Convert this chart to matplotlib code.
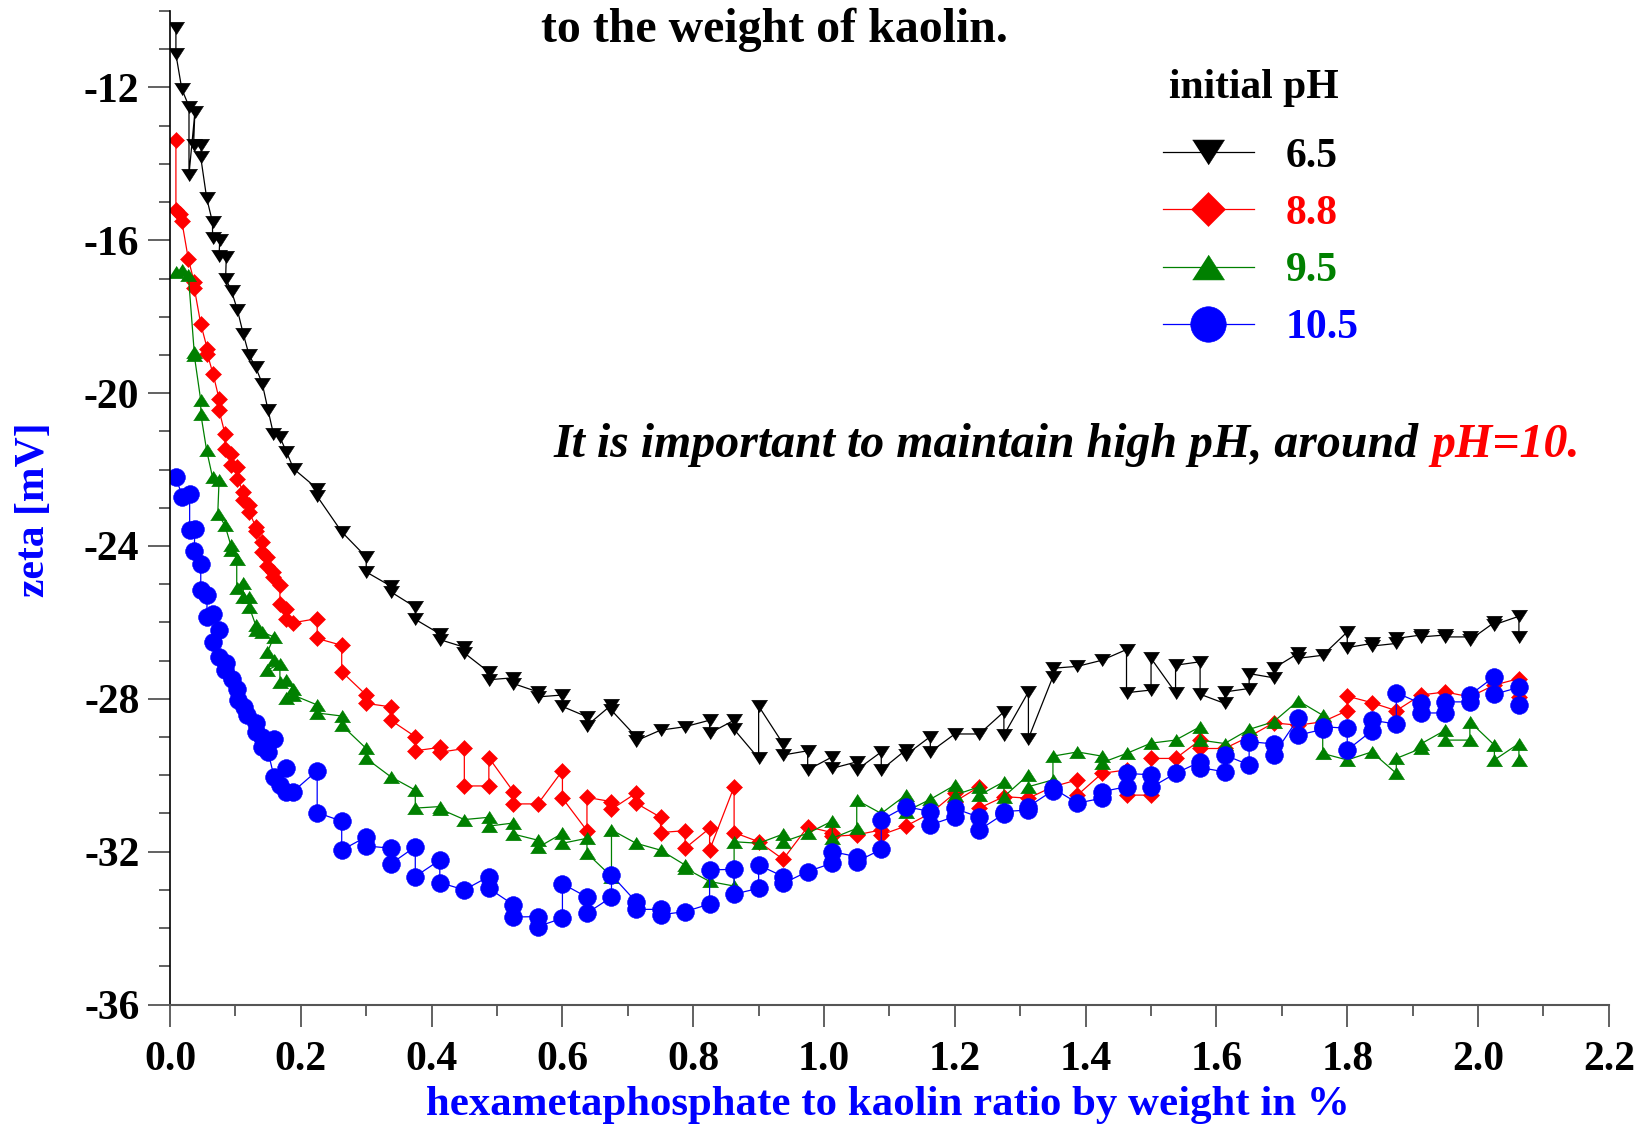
import matplotlib
matplotlib.use("Agg")
import matplotlib.pyplot as plt
from matplotlib.ticker import MultipleLocator, FormatStrFormatter

plt.rcParams['font.family'] = ['Liberation Serif', 'DejaVu Serif']
plt.rcParams['font.weight'] = 'bold'
plt.rcParams['axes.unicode_minus'] = False

# ---- zeta potential vs. hexametaphosphate dose, four initial pH values ----
series_labels = ["6.5", "8.8", "9.5", "10.5"]
series_colors = ["#000000", "#ff0000", "#008000", "#0000ff"]

x_ph65 = [0.009, 0.009, 0.018, 0.029, 0.029, 0.038, 0.036, 0.048, 0.047, 0.056,
          0.065, 0.065, 0.076, 0.075, 0.086, 0.085, 0.094, 0.103, 0.112, 0.121,
          0.131, 0.141, 0.150, 0.158, 0.168, 0.178, 0.189,
          0.225, 0.225, 0.2625, 0.300, 0.300, 0.3375, 0.3375, 0.375, 0.375,
          0.4125, 0.4125, 0.45, 0.45, 0.4875, 0.4875, 0.525, 0.525, 0.5625, 0.5625,
          0.6, 0.6, 0.6375, 0.6375, 0.675, 0.675, 0.7125, 0.7125, 0.75, 0.7875,
          0.825, 0.825, 0.8625, 0.8625, 0.9, 0.9, 0.9375, 0.9375, 0.975, 0.975,
          1.0125, 1.0125, 1.05, 1.05, 1.0875, 1.0875, 1.125, 1.125, 1.1625, 1.1625,
          1.2, 1.2375, 1.275, 1.275, 1.3125, 1.3125, 1.35, 1.35, 1.3875, 1.425,
          1.4625, 1.4625, 1.5, 1.5, 1.5375, 1.5375, 1.575, 1.575, 1.6125, 1.6125,
          1.65, 1.65, 1.6875, 1.6875, 1.725, 1.725, 1.7625, 1.8, 1.8, 1.8375, 1.8375,
          1.875, 1.875, 1.9125, 1.9125, 1.95, 1.95, 1.9875, 1.9875, 2.025, 2.025,
          2.0625, 2.0625]
z_ph65 = [-10.45, -11.13, -12.04, -12.50, -14.28, -12.65, -13.50, -13.50, -13.83, -14.89,
          -15.53, -15.95, -16.00, -16.40, -16.44, -17.00, -17.33, -17.82, -18.45, -19.01,
          -19.32, -19.75, -20.45, -21.06, -21.15, -21.54, -21.98,
          -22.50, -22.70, -23.63, -24.29, -24.68, -25.05, -25.20, -25.60, -25.92,
          -26.30, -26.45, -26.65, -26.80, -27.30, -27.50, -27.45, -27.60, -27.82, -27.95,
          -27.90, -28.20, -28.47, -28.70, -28.16, -28.30, -28.99, -29.10, -28.82, -28.73,
          -28.56, -28.90, -28.56, -28.80, -29.56, -28.19, -29.18, -29.47, -29.36, -29.86,
          -29.52, -29.82, -29.65, -29.86, -29.39, -29.86, -29.34, -29.47, -28.99, -29.39,
          -28.92, -28.92, -28.34, -28.95, -27.82, -29.04, -27.42, -27.20, -27.15, -26.99,
          -26.71, -27.84, -27.77, -26.94, -27.84, -27.12, -27.03, -27.88, -28.12, -27.82,
          -27.73, -27.34, -27.45, -27.20, -26.81, -26.94, -26.86, -26.25, -26.66, -26.55, -26.62,
          -26.55, -26.42, -26.33, -26.38, -26.33, -26.38, -26.38, -26.46, -26.00, -26.06,
          -25.84, -26.38]

x_ph88 = [0.009, 0.009, 0.016, 0.018, 0.028, 0.037, 0.037, 0.047, 0.057, 0.057,
          0.066, 0.075, 0.075, 0.084, 0.084, 0.093, 0.093, 0.103, 0.103, 0.112,
          0.112, 0.121, 0.121, 0.131, 0.131, 0.140, 0.140, 0.149, 0.149, 0.158,
          0.158, 0.168, 0.168, 0.177, 0.177, 0.188,
          0.225, 0.225, 0.2625, 0.2625, 0.3, 0.3, 0.3375, 0.3375, 0.375, 0.375,
          0.4125, 0.4125, 0.45, 0.45, 0.4875, 0.4875, 0.525, 0.525, 0.5625, 0.6, 0.6,
          0.6375, 0.6375, 0.675, 0.675, 0.7125, 0.7125, 0.75, 0.75, 0.7875, 0.7875,
          0.825, 0.825, 0.8625, 0.8625, 0.9, 0.9375, 0.975, 1.0125, 1.0125, 1.05,
          1.0875, 1.0875, 1.125, 1.1625, 1.2, 1.2, 1.2375, 1.2375, 1.275, 1.3125, 1.35,
          1.3875, 1.3875, 1.425, 1.4625, 1.4625, 1.5, 1.5, 1.5375, 1.575, 1.575, 1.6125,
          1.65, 1.6875, 1.725, 1.7625, 1.8, 1.8, 1.8375, 1.875, 1.9125, 1.95, 1.9875,
          2.025, 2.0625, 2.0625]
z_ph88 = [-13.38, -15.22, -15.31, -15.50, -16.49, -17.10, -17.24, -18.19, -18.84, -18.97,
          -19.51, -20.15, -20.45, -21.06, -21.45, -21.58, -21.88, -21.93, -22.24, -22.59,
          -22.80, -22.94, -23.10, -23.50, -23.60, -23.90, -24.16, -24.29, -24.53, -24.68,
          -24.81, -25.03, -25.51, -25.64, -25.90, -26.01,
          -25.90, -26.42, -26.60, -27.29, -27.90, -28.12, -28.21, -28.56, -28.99, -29.36,
          -29.27, -29.40, -29.30, -30.28, -30.28, -29.54, -30.43, -30.75, -30.75, -29.88, -30.60,
          -31.45, -30.58, -30.69, -30.89, -30.47, -30.73, -31.10, -31.50, -31.45, -31.91,
          -31.39, -31.96, -30.30, -31.50, -31.74, -32.20, -31.35, -31.50, -31.60, -31.56,
          -31.43, -31.56, -31.33, -31.00, -30.47, -30.69, -30.30, -30.86, -30.56, -30.60, -30.30,
          -30.12, -30.52, -29.95, -29.86, -30.52, -30.52, -29.56, -29.56, -29.08, -29.30, -29.30,
          -28.99, -28.63, -28.69, -28.60, -28.31, -27.93, -28.10, -28.31, -27.90, -27.82, -27.95,
          -27.64, -27.47, -27.95]

x_ph95 = [0.009, 0.018, 0.028, 0.037, 0.037, 0.047, 0.047, 0.056, 0.065, 0.075,
          0.073, 0.084, 0.093, 0.093, 0.102, 0.102, 0.112, 0.112, 0.121, 0.121,
          0.131, 0.131, 0.140, 0.159, 0.149, 0.159, 0.149, 0.168, 0.168, 0.177,
          0.188, 0.177, 0.188,
          0.225, 0.225, 0.2625, 0.2625, 0.3, 0.3, 0.3375, 0.375, 0.375, 0.4125, 0.4125,
          0.45, 0.4875, 0.4875, 0.525, 0.525, 0.5625, 0.5625, 0.6, 0.6, 0.6375, 0.6375,
          0.675, 0.675, 0.7125, 0.75, 0.7875, 0.7875, 0.825, 0.8625, 0.8625, 0.9,
          0.9375, 0.9375, 0.975, 1.0125, 1.0125, 1.05, 1.05, 1.0875, 1.125, 1.125,
          1.1625, 1.2, 1.2, 1.2375, 1.2375, 1.275, 1.275, 1.3125, 1.3125, 1.35, 1.35,
          1.3875, 1.425, 1.425, 1.4625, 1.5, 1.5375, 1.575, 1.575, 1.6125, 1.65, 1.6875,
          1.725, 1.7625, 1.7625, 1.8, 1.8375, 1.875, 1.875, 1.9125, 1.9125, 1.95, 1.95,
          1.9875, 1.9875, 2.025, 2.025, 2.0625, 2.0625]
z_ph95 = [-16.84, -16.78, -16.90, -18.93, -19.00, -20.19, -20.54, -21.50, -22.20, -22.28,
          -23.15, -23.46, -23.98, -24.10, -24.33, -25.11, -24.97, -25.33, -25.33, -25.59,
          -26.07, -26.20, -26.25, -26.38, -26.77, -26.99, -27.25, -27.08, -27.56, -27.51,
          -27.73, -27.99, -27.90,
          -28.16, -28.37, -28.45, -28.69, -29.30, -29.56, -30.04, -30.39, -30.86, -30.82, -30.88,
          -31.16, -31.10, -31.33, -31.25, -31.54, -31.70, -31.89, -31.52, -31.78, -31.65, -32.04,
          -32.65, -31.43, -31.78, -31.96, -32.35, -32.43, -32.78, -32.90, -31.74, -31.78,
          -31.54, -31.74, -31.52, -31.20, -31.65, -31.39, -30.65, -31.00, -30.52, -30.95,
          -30.63, -30.26, -30.52, -30.30, -30.52, -30.17, -30.56, -29.99, -30.30, -30.12, -29.50,
          -29.39, -29.50, -29.67, -29.43, -29.16, -29.08, -28.73, -29.08, -29.17, -28.80, -28.60,
          -28.05, -28.43, -29.43, -29.60, -29.39, -29.95, -29.56, -29.30, -29.18, -28.82, -29.08,
          -29.08, -28.60, -29.21, -29.60, -29.17, -29.60]

x_ph105 = [0.009, 0.019, 0.030, 0.030, 0.038, 0.037, 0.047, 0.047, 0.057, 0.056,
           0.066, 0.075, 0.065, 0.075, 0.085, 0.084, 0.094, 0.103, 0.104, 0.113,
           0.117, 0.131, 0.132, 0.140, 0.150, 0.159, 0.140, 0.150, 0.159, 0.178,
           0.168, 0.178, 0.188,
           0.225, 0.225, 0.2625, 0.2625, 0.3, 0.3, 0.3375, 0.3375, 0.375, 0.375,
           0.4125, 0.4125, 0.45, 0.4875, 0.4875, 0.525, 0.525, 0.5625, 0.5625, 0.6, 0.6,
           0.6375, 0.6375, 0.675, 0.675, 0.7125, 0.7125, 0.75, 0.75, 0.7875, 0.825, 0.825,
           0.8625, 0.8625, 0.9, 0.9, 0.9375, 0.9375, 0.975, 1.0125, 1.0125, 1.05, 1.05,
           1.0875, 1.0875, 1.125, 1.1625, 1.1625, 1.2, 1.2, 1.2375, 1.2375, 1.275, 1.275,
           1.3125, 1.3125, 1.35, 1.35, 1.3875, 1.425, 1.425, 1.4625, 1.4625, 1.5, 1.5,
           1.5375, 1.575, 1.575, 1.6125, 1.6125, 1.65, 1.65, 1.6875, 1.6875, 1.725, 1.725,
           1.7625, 1.7625, 1.8, 1.8, 1.8375, 1.8375, 1.875, 1.875, 1.9125, 1.9125,
           1.95, 1.95, 1.9875, 1.9875, 2.025, 2.025, 2.0625, 2.0625]
z_ph105 = [-22.20, -22.72, -22.63, -23.59, -23.55, -24.13, -24.48, -25.14, -25.29, -25.86,
           -25.79, -26.20, -26.51, -26.90, -27.06, -27.25, -27.47, -27.73, -28.03, -28.21,
           -28.43, -28.64, -28.86, -28.99, -29.12, -29.06, -29.26, -29.39, -30.04, -29.82,
           -30.26, -30.43, -30.43,
           -29.88, -30.98, -31.20, -31.96, -31.61, -31.85, -31.91, -32.32, -31.87, -32.65,
           -32.22, -32.81, -33.00, -32.65, -32.96, -33.39, -33.71, -33.70, -33.96, -33.74, -32.84,
           -33.19, -33.61, -33.19, -32.61, -33.31, -33.51, -33.51, -33.65, -33.57, -33.37, -32.48,
           -32.46, -33.11, -32.96, -32.35, -32.65, -32.83, -32.52, -32.30, -32.00, -32.13, -32.26,
           -31.94, -31.17, -30.82, -30.95, -31.30, -31.08, -30.87, -31.10, -31.43, -31.01, -30.95,
           -30.91, -30.82, -30.40, -30.34, -30.73, -30.60, -30.43, -30.30, -29.95, -29.99, -30.32,
           -29.95, -29.65, -29.80, -29.91, -29.47, -29.73, -29.12, -29.18, -29.47, -28.51, -28.95,
           -28.80, -28.73, -28.77, -29.34, -28.84, -28.56, -28.66, -27.84, -28.12, -28.37,
           -28.37, -28.08, -28.08, -27.90, -27.42, -27.88, -27.70, -28.16]

x_ticks = [0.0, 0.2, 0.4, 0.6, 0.8, 1.0, 1.2, 1.4, 1.6, 1.8, 2.0, 2.2]
y_ticks = [-36, -32, -28, -24, -20, -16, -12]

# slightly flattened triangles
tri_down = [(-1.0, 0.78), (1.0, 0.78), (0.0, -0.78)]
tri_up = [(-1.0, -0.78), (1.0, -0.78), (0.0, 0.78)]

series = [
    (x_ph65, z_ph65, tri_down, 11.5),
    (x_ph88, z_ph88, "D", 8.6),
    (x_ph95, z_ph95, tri_up, 11.5),
    (x_ph105, z_ph105, "o", 12.8),
]

fig = plt.figure(figsize=(16.38, 11.25), dpi=100)
ax = fig.add_axes([0.1038, 0.1071, 0.8784, 0.8831])

handles = []
for (xs, zs, mk, ms), color, lab in zip(series, series_colors, series_labels):
    ln, = ax.plot(xs, zs, color=color, lw=0.9, marker=mk, markersize=ms,
                  markerfacecolor=color, markeredgecolor=color, markeredgewidth=0.4,
                  label=lab)
    handles.append(ln)

ax.set_xlim(0.0, 2.2)
ax.set_ylim(-36, -10)
ax.set_xticks(x_ticks)
ax.set_yticks(y_ticks)
ax.xaxis.set_minor_locator(MultipleLocator(0.1))
ax.yaxis.set_minor_locator(MultipleLocator(1))
ax.xaxis.set_major_formatter(FormatStrFormatter('%.1f'))
ax.yaxis.set_major_formatter(FormatStrFormatter('%d'))

for side in ('top', 'right'):
    ax.spines[side].set_visible(False)
ax.spines['left'].set_color('black')
ax.spines['bottom'].set_color('#555555')
ax.spines['left'].set_linewidth(1.2)
ax.spines['bottom'].set_linewidth(1.5)

ax.tick_params(axis='both', which='major', direction='out', length=16, width=1.3,
               color='#555555', labelsize=30, pad=6)
ax.tick_params(axis='both', which='minor', direction='out', length=8, width=1.3,
               color='#555555')
ax.tick_params(axis='x', which='major', pad=10)
for lbl in ax.get_xticklabels() + ax.get_yticklabels():
    lbl.set_fontweight('bold')

fig.text(0.542, 0.0089, "hexametaphosphate to kaolin ratio by weight in %",
         color='#0000ff', fontsize=30.9, fontweight='bold', ha='center', va='baseline')
fig.text(0.0208, 0.5467, "zeta [mV]", color='#0000ff', fontsize=30,
         fontweight='bold', rotation=90, ha='center', va='center')
fig.text(0.4725, 0.9627, "to the weight of kaolin.", color='black', fontsize=34.5,
         fontweight='bold', ha='center', va='baseline')

t1 = ax.text(0.587, -21.67, "It is important to maintain high pH, around ",
             fontsize=34.5, fontweight='bold', style='italic', color='black',
             ha='left', va='baseline')
ax.annotate("pH=10.", xy=(1.0, 0.0), xycoords=t1, fontsize=34.5, fontweight='bold',
            style='italic', color='#ff0000', ha='left', va='bottom')

# legend heading and entries
fig.text(0.7137, 0.9129, "initial pH", color='black', fontsize=30,
         fontweight='bold', ha='left', va='baseline')
leg = ax.legend(handles=handles, labels=series_labels,
                loc='upper left', bbox_to_anchor=(0.7098, 0.8776),
                bbox_transform=fig.transFigure, frameon=False, markerscale=2.0,
                fontsize=30, handlelength=2.2,
                handletextpad=0.75, labelspacing=0.456, borderpad=0, borderaxespad=0)
for txt, color in zip(leg.get_texts(), series_colors):
    txt.set_color(color)
    txt.set_fontweight('bold')

fig.savefig("out.png", dpi=100)
